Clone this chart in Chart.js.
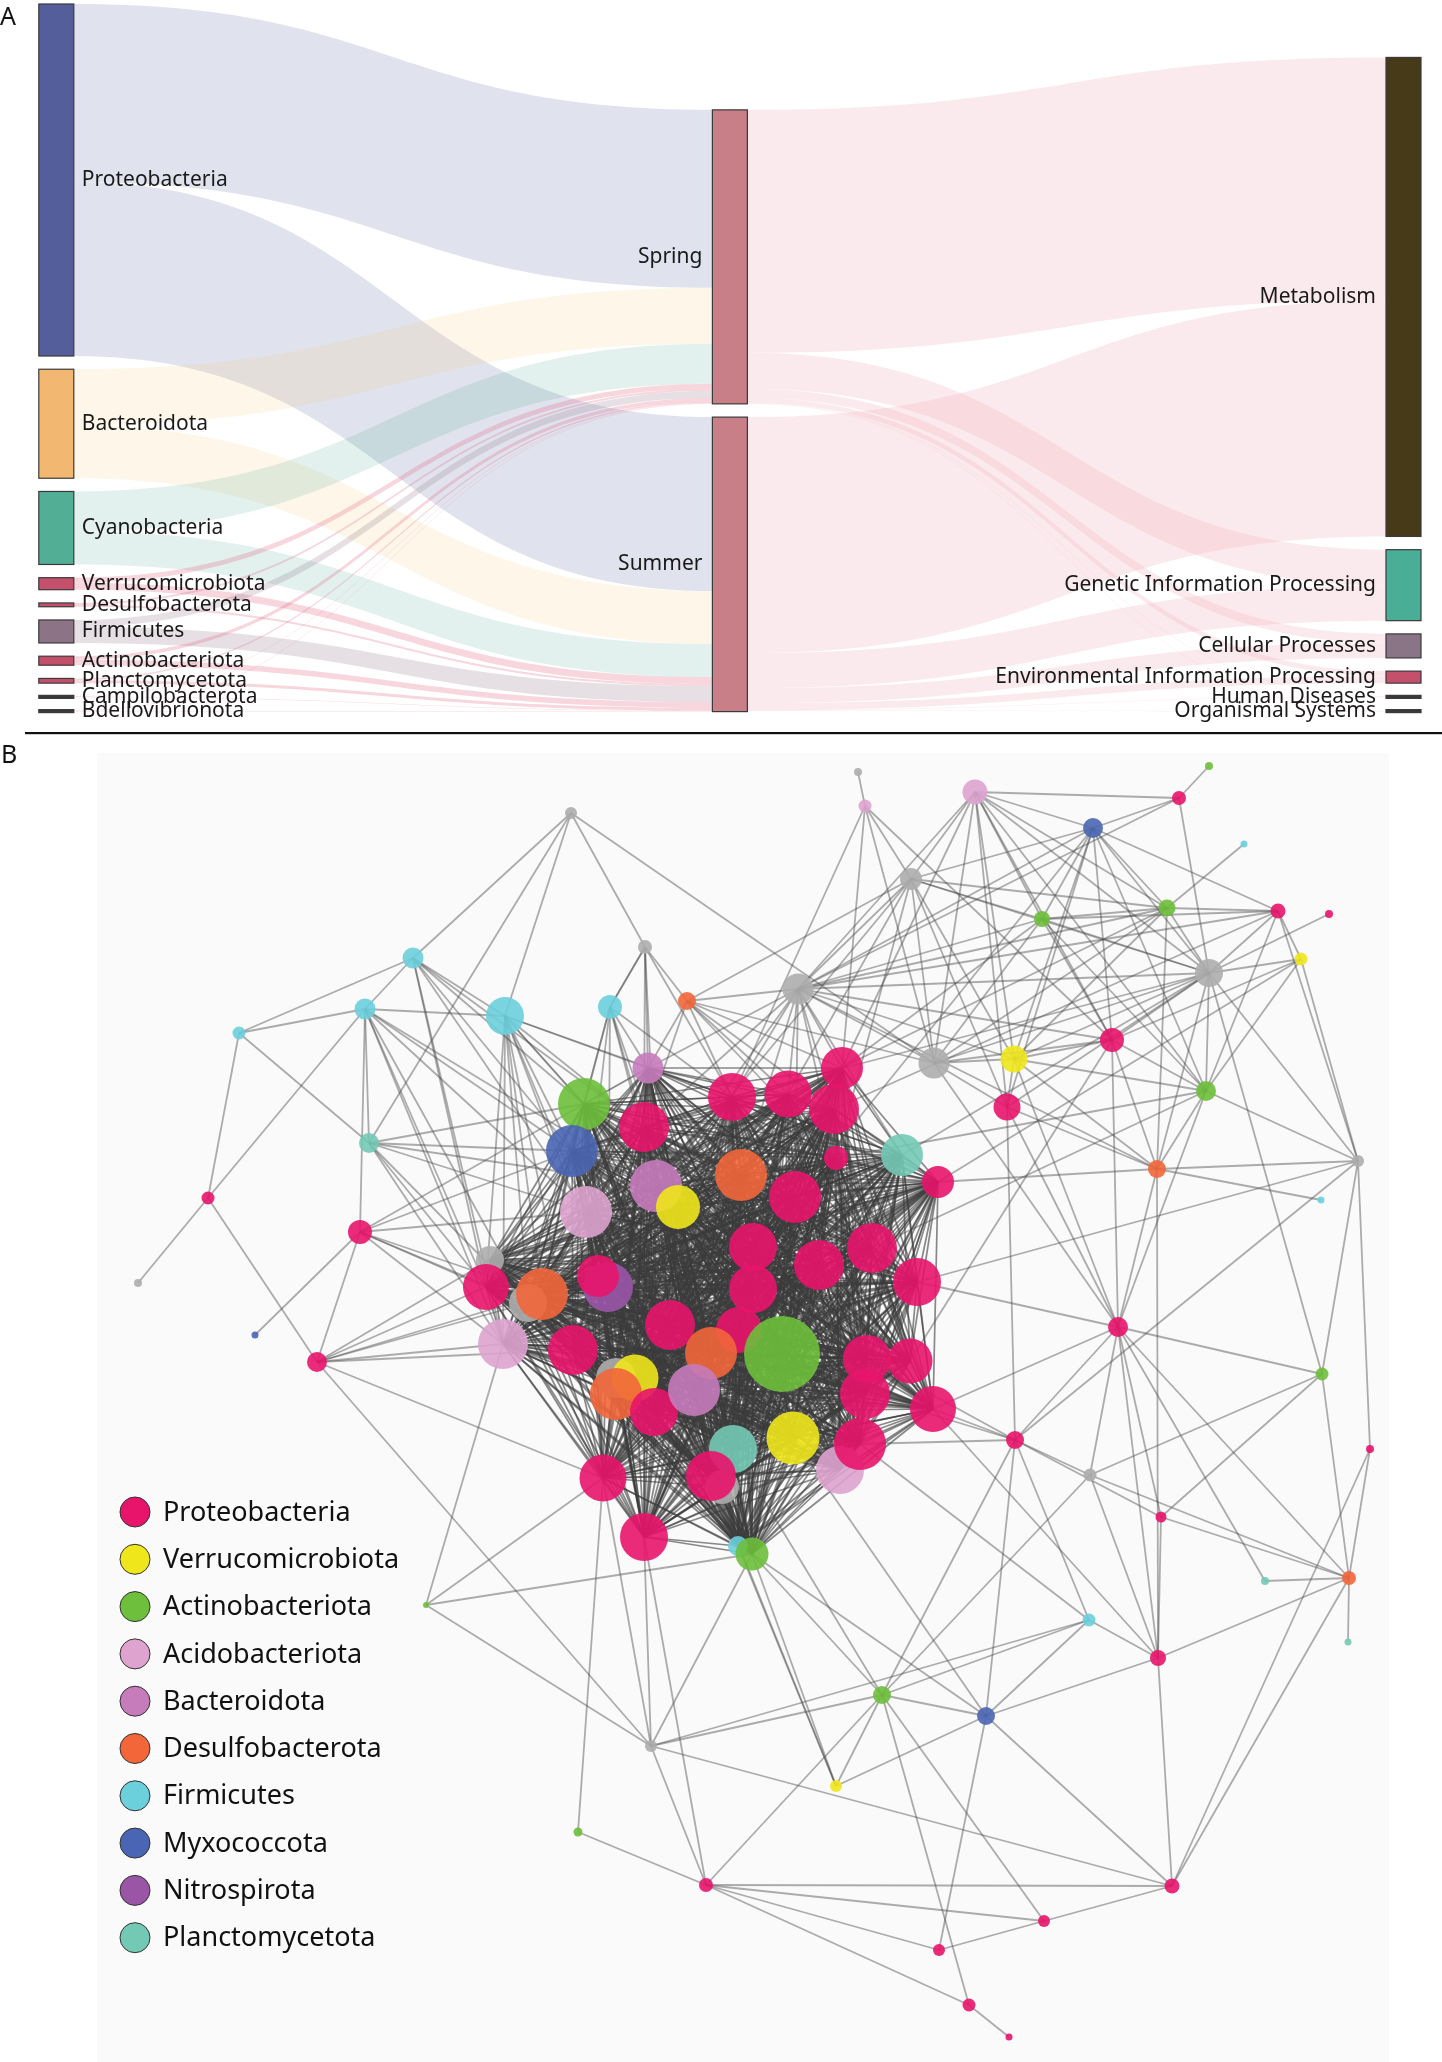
<!DOCTYPE html>
<html>
<head>
<meta charset="utf-8">
<title>Sankey and co-occurrence network</title>
<script src="https://cdn.jsdelivr.net/npm/chart.js@4.4.1/dist/chart.umd.min.js"></script>
<style>
html, body { margin: 0; padding: 0; background: #fff; }
body { width: 1442px; height: 2062px; position: relative; overflow: hidden; }
#sankeyBox { position: absolute; left: 0; top: 0; width: 1442px; height: 745px; }
#netBox { position: absolute; left: 0; top: 745px; width: 1442px; height: 1317px; }
</style>
</head>
<body>
<div id="sankeyBox"><canvas id="sankey" width="1442" height="745"></canvas></div>
<div id="netBox"><canvas id="network" width="1442" height="1317"></canvas></div>
<script>
// ---------- Panel A : phylum -> season -> KEGG level 1 ----------
const phyla = ['Proteobacteria', 'Bacteroidota', 'Cyanobacteria', 'Verrucomicrobiota', 'Desulfobacterota',
  'Firmicutes', 'Actinobacteriota', 'Planctomycetota', 'Campilobacterota', 'Bdellovibrionota'];
const seasons = ['Spring', 'Summer'];
const pathways = ['Metabolism', 'Genetic Information Processing', 'Cellular Processes',
  'Environmental Information Processing', 'Human Diseases', 'Organismal Systems'];

// flow sizes
const toSpring = [178, 56, 40, 5, 1.8, 7, 3.5, 1.7, 0.5, 0.5];
const toSummer = [174, 53, 33, 7, 2, 16, 5.5, 3, 0.5, 0.5];
const fromSpring = [243, 36, 9, 5, 0.5, 0.5];
const fromSummer = [236, 35, 15, 7, 0.5, 0.5];

const phylaColors = ['#545e9b', '#f2b872', '#52ae95', '#c4506c', '#c4506c', '#8c7385', '#c4506c', '#c4506c', '#3a3a3a', '#3a3a3a'];
const phylaFlowColors = ['rgba(84,94,155,0.18)', 'rgba(245,200,120,0.16)', 'rgba(82,174,149,0.17)',
  'rgba(222,90,125,0.25)', 'rgba(222,90,125,0.25)', 'rgba(140,115,133,0.22)', 'rgba(222,90,125,0.25)',
  'rgba(222,90,125,0.25)', 'rgba(222,90,125,0.22)', 'rgba(222,90,125,0.22)'];
const seasonColor = '#c97f88';
const seasonFlowColor = 'rgba(236,150,165,0.2)';
const pathwayColors = ['#473a18', '#4aae97', '#8a7587', '#c4506c', '#3a3a3a', '#3a3a3a'];

const sankeyHeight = 707.6;   // y scale extent in flow units
const nodeWidthPx = 35;
const columnPos = [0, 0.5, 1];

function buildSankey() {
  const cols = [[], [], []];
  phyla.forEach((name, i) => cols[0].push({ name, color: phylaColors[i], value: toSpring[i] + toSummer[i], col: 0 }));
  seasons.forEach((name, i) => {
    const inV = phyla.reduce((s, p, k) => s + (i === 0 ? toSpring[k] : toSummer[k]), 0);
    const outV = (i === 0 ? fromSpring : fromSummer).reduce((a, b) => a + b, 0);
    cols[1].push({ name, color: seasonColor, value: Math.max(inV, outV), col: 1 });
  });
  pathways.forEach((name, i) => cols[2].push({ name, color: pathwayColors[i], value: fromSpring[i] + fromSummer[i], col: 2 }));

  const leftSum = cols[0].reduce((s, n) => s + n.value, 0);
  const pad = (sankeyHeight - leftSum) / (cols[0].length - 1);
  cols.forEach(col => {
    const total = col.reduce((s, n) => s + n.value, 0) + pad * (col.length - 1);
    let y = sankeyHeight - total;
    col.forEach(n => { n.y0 = y; n.y1 = y + n.value; n.outY = y; n.inY = y; y = n.y1 + pad; });
  });

  const links = [];
  phyla.forEach((p, i) => {
    [toSpring[i], toSummer[i]].forEach((v, s) => links.push({ src: cols[0][i], tgt: cols[1][s], value: v, color: phylaFlowColors[i] }));
  });
  seasons.forEach((s, i) => {
    const arr = i === 0 ? fromSpring : fromSummer;
    arr.forEach((v, k) => links.push({ src: cols[1][i], tgt: cols[2][k], value: v, color: seasonFlowColor }));
  });
  // source offsets follow target order, target offsets follow source order
  links.forEach(l => { l.sy0 = l.src.outY; l.src.outY += l.value; l.sy1 = l.src.outY; });
  const byTarget = links.slice().sort((a, b) => a.src.col - b.src.col || a.src.y0 - b.src.y0);
  byTarget.forEach(l => { l.ty0 = l.tgt.inY; l.tgt.inY += l.value; l.ty1 = l.tgt.inY; });
  return { cols, links };
}

const sankeyData = buildSankey();

const sankeyPlugin = {
  id: 'sankeyDraw',
  afterDatasetsDraw(chart) {
    const { ctx, scales: { x, y } } = chart;
    const nodeX0 = n => x.getPixelForValue(columnPos[n.col]) - nodeWidthPx * columnPos[n.col];

    ctx.save();
    // flows
    sankeyData.links.forEach(l => {
      const xs = nodeX0(l.src) + nodeWidthPx, xt = nodeX0(l.tgt), xm = (xs + xt) / 2;
      const a0 = y.getPixelForValue(l.sy0), a1 = y.getPixelForValue(l.sy1);
      const b0 = y.getPixelForValue(l.ty0), b1 = y.getPixelForValue(l.ty1);
      ctx.beginPath();
      ctx.moveTo(xs, a0);
      ctx.bezierCurveTo(xm, a0, xm, b0, xt, b0);
      ctx.lineTo(xt, b1);
      ctx.bezierCurveTo(xm, b1, xm, a1, xs, a1);
      ctx.closePath();
      ctx.fillStyle = l.color;
      ctx.fill();
    });

    // nodes + labels
    ctx.font = '21px "Noto Sans", "DejaVu Sans", sans-serif';
    ctx.textBaseline = 'middle';
    sankeyData.cols.forEach(col => col.forEach(n => {
      const x0 = nodeX0(n);
      let top = y.getPixelForValue(n.y0), bot = y.getPixelForValue(n.y1);
      const mid = (top + bot) / 2;
      if (bot - top < 3) { top = mid - 1.5; bot = mid + 1.5; }
      ctx.fillStyle = n.color;
      ctx.fillRect(x0, top, nodeWidthPx, bot - top);
      ctx.strokeStyle = '#3a3a3a';
      ctx.lineWidth = 1.2;
      ctx.strokeRect(x0, top, nodeWidthPx, bot - top);
      ctx.fillStyle = '#1a1a1a';
      if (n.col === 0) {
        ctx.textAlign = 'left';
        ctx.fillText(n.name, x0 + nodeWidthPx + 8, mid);
      } else {
        ctx.textAlign = 'right';
        ctx.fillText(n.name, x0 - 10, mid);
      }
    }));

    // panel letter and divider
    ctx.textAlign = 'left';
    ctx.textBaseline = 'alphabetic';
    ctx.font = '25px "Noto Sans", "DejaVu Sans", sans-serif';
    ctx.fillStyle = '#111';
    ctx.fillText('A', 0, 25);
    ctx.fillRect(25, 732, 1442 - 25, 2.2);
    ctx.restore();
  }
};

new Chart(document.getElementById('sankey'), {
  type: 'scatter',
  data: { datasets: [{ data: [] }] },
  options: {
    responsive: false,
    devicePixelRatio: 1,
    animation: false,
    events: [],
    layout: { autoPadding: false, padding: { left: 38.8, right: 21, top: 4, bottom: 35 } },
    plugins: { legend: { display: false }, tooltip: { enabled: false } },
    scales: {
      x: { type: 'linear', min: 0, max: 1, display: false },
      y: { type: 'linear', min: 0, max: sankeyHeight - 1.6, reverse: true, display: false }
    }
  },
  plugins: [sankeyPlugin]
});

// ---------- Panel B : co-occurrence network ----------
const groupNames = ['Proteobacteria', 'Verrucomicrobiota', 'Actinobacteriota', 'Acidobacteriota', 'Bacteroidota',
  'Desulfobacterota', 'Firmicutes', 'Myxococcota', 'Nitrospirota', 'Planctomycetota'];
const groupCodes = ['P', 'V', 'A', 'C', 'B', 'D', 'F', 'M', 'N', 'L'];
const groupColors = ['#e8146c', '#f0e61c', '#6dbf3c', '#dea3cf', '#c67bbb', '#f2663a', '#6ccfdc', '#4a65b3', '#9a55a7', '#74c9b5'];
const otherColor = '#adadad';

// node layout positions (page pixels) and sizes
const nodeX = [571, 645, 858, 865, 975, 1093, 1179, 1209, 1244, 911,
  1042, 1167, 1278, 1329, 1301, 1209, 798, 687, 610, 505,
  413, 365, 239, 369, 208, 138, 255, 360, 317, 934,
  1014, 1112, 1007, 1206, 1358, 1321, 1157, 902, 836, 938,
  648, 584, 644, 572, 656, 678, 586, 732, 788, 842,
  834, 741, 795, 753, 819, 872, 917, 753, 490, 528,
  542, 486, 608, 598, 503, 573, 670, 739, 711, 782,
  616, 635, 616, 654, 694, 867, 910, 865, 933, 793,
  840, 860, 722, 733, 711, 603, 644, 738, 752, 1118,
  1015, 1090, 1322, 1370, 1161, 1349, 1265, 1348, 1089, 1158,
  882, 986, 651, 836, 578, 426, 706, 1044, 1172, 939,
  969, 1009];
const nodeY = [813, 947, 772, 806, 792, 828, 798, 766, 844, 879,
  919, 908, 911, 914, 959, 973, 989, 1001, 1007, 1016,
  958, 1009, 1033, 1143, 1198, 1283, 1335, 1232, 1362, 1063,
  1059, 1040, 1107, 1091, 1161, 1200, 1169, 1155, 1158, 1182,
  1068, 1104, 1127, 1151, 1186, 1207, 1212, 1097, 1094, 1068,
  1109, 1175, 1197, 1247, 1265, 1248, 1282, 1289, 1260, 1303,
  1294, 1287, 1287, 1276, 1344, 1350, 1325, 1330, 1353, 1354,
  1378, 1378, 1394, 1412, 1390, 1359, 1361, 1394, 1409, 1438,
  1470, 1444, 1487, 1449, 1476, 1478, 1537, 1546, 1554, 1327,
  1440, 1475, 1374, 1449, 1517, 1578, 1581, 1642, 1620, 1658,
  1695, 1716, 1746, 1786, 1832, 1605, 1885, 1921, 1886, 1950,
  2005, 2037];
const nodeSize = [6, 7, 4, 6.5, 12.5, 10, 7, 4, 3.5, 11,
  8, 8.5, 7.5, 4, 6.5, 14, 15.5, 9, 12, 19,
  10.5, 10.5, 6.5, 10, 6.5, 4, 3.5, 12, 10, 15.5,
  13.5, 12, 13.5, 10, 6, 3.5, 9, 21, 12, 16,
  15.5, 26, 25, 26, 26, 22, 26, 24, 23.5, 21,
  25, 26, 26, 24, 25, 25, 24, 24, 14, 19,
  26, 23, 25, 21, 25, 25, 25, 23, 26, 38,
  20, 23.5, 26, 24, 26, 24, 22.5, 25, 23, 26.5,
  24, 26, 17, 24, 25, 23.5, 24, 10, 16.5, 10,
  9, 6.5, 6.5, 4, 5.5, 7, 4, 3.5, 6.5, 8,
  9, 9, 6, 6, 4.5, 3, 7, 6, 7.5, 6,
  6.5, 3.5];
// P Proteo, V Verruco, A Actino, C Acido, B Bactero, D Desulfo, F Firmicutes, M Myxo, N Nitro, L Plancto, O other
const nodeGroup = ['O', 'O', 'O', 'C', 'C', 'M', 'P', 'A', 'F', 'O',
  'A', 'A', 'P', 'P', 'V', 'O', 'O', 'D', 'F', 'F',
  'F', 'F', 'F', 'L', 'P', 'O', 'M', 'P', 'P', 'O',
  'V', 'P', 'P', 'A', 'O', 'F', 'D', 'L', 'P', 'P',
  'B', 'A', 'P', 'M', 'B', 'V', 'C', 'P', 'P', 'P',
  'P', 'D', 'P', 'P', 'P', 'P', 'P', 'P', 'O', 'O',
  'D', 'P', 'N', 'P', 'C', 'P', 'P', 'P', 'D', 'A',
  'O', 'V', 'D', 'P', 'B', 'P', 'P', 'P', 'P', 'V',
  'C', 'P', 'O', 'L', 'P', 'P', 'P', 'F', 'A', 'P',
  'P', 'O', 'A', 'P', 'P', 'D', 'L', 'L', 'F', 'P',
  'A', 'M', 'O', 'V', 'A', 'A', 'P', 'P', 'P', 'P',
  'P', 'P'];

// densely connected module in the centre: every member is linked to every other member
const coreModule = [37, 38, 39, 40, 41, 42, 43, 44, 45, 46, 47, 48, 49, 50, 51, 52, 53, 54, 55, 56,
  57, 58, 59, 60, 61, 62, 63, 64, 65, 66, 67, 68, 69, 70, 71, 72, 73, 74, 75, 76,
  77, 78, 79, 80, 81, 82, 83, 84, 85, 86, 87, 88];

// remaining edges, as node -> neighbours
const outerLinks = [
  [0, [20, 19, 1, 29, 23]],
  [1, [18, 40, 47, 42, 44, 17]],
  [2, [3]],
  [3, [9, 29, 49, 31, 47]],
  [4, [6, 5, 9, 16, 10, 11, 15, 30, 29, 31, 33, 32, 49]],
  [5, [6, 9, 10, 11, 15, 33, 30, 31, 32, 12, 16, 52]],
  [6, [7, 15, 16]],
  [8, [11]],
  [9, [10, 11, 15, 16, 29, 30, 32, 38, 48, 17, 44]],
  [10, [11, 12, 15, 16, 29, 31, 33, 49]],
  [11, [12, 15, 16, 29, 36, 30, 48]],
  [12, [14, 15, 34, 16, 33, 50]],
  [13, [15]],
  [14, [15, 34, 33, 31, 39]],
  [15, [16, 29, 30, 33, 36, 34, 32, 31, 37, 47]],
  [16, [29, 30, 31, 47, 48, 49, 50, 42, 40, 44, 51, 52, 37, 38, 17, 36]],
  [17, [29, 47, 48, 49, 42, 40, 38, 50]],
  [18, [1, 41, 43, 42, 40, 44, 47, 46, 45, 62]],
  [19, [20, 21, 41, 43, 46, 42, 44, 61, 64, 40, 62, 59, 65, 47, 60]],
  [20, [22, 21, 41, 43, 46, 42, 61, 64]],
  [21, [22, 27, 23, 43, 46, 61, 64, 59, 44]],
  [22, [24, 23]],
  [23, [43, 41, 46, 61, 64, 44, 65]],
  [24, [21, 25, 28]],
  [26, [27]],
  [27, [28, 61, 64, 43, 46, 60, 59, 41]],
  [28, [61, 64, 60, 65, 59, 58, 85, 102]],
  [29, [30, 31, 32, 89]],
  [30, [31, 32, 33, 36, 89]],
  [31, [33, 36, 89, 76]],
  [32, [89, 90, 36]],
  [33, [34, 36, 89, 38, 55]],
  [34, [36, 92, 90, 56]],
  [35, [36]],
  [36, [89, 99, 39]],
  [87, [103]],
  [88, [100, 102, 103, 101]],
  [89, [90, 91, 94, 95, 92, 99, 56, 78]],
  [90, [91, 98, 100, 94, 78, 81, 77, 75]],
  [91, [95, 100, 99]],
  [92, [15, 95, 94, 91]],
  [93, [108, 95, 34]],
  [94, [95, 99]],
  [95, [96, 97, 99, 108]],
  [96, [89]],
  [98, [99, 100, 101, 102, 81]],
  [99, [108, 101, 78]],
  [100, [101, 107, 110, 103, 83]],
  [101, [108, 109, 90, 79]],
  [102, [100, 106, 86, 108, 85]],
  [103, [101, 84]],
  [104, [106, 85]],
  [105, [88, 85, 102, 64]],
  [106, [100, 108, 107, 109, 110, 86]],
  [107, [108, 109]],
  [110, [111]]
];

function colorFor(code, alpha) {
  const k = groupCodes.indexOf(code);
  const hex = k < 0 ? otherColor : groupColors[k];
  const r = parseInt(hex.slice(1, 3), 16), g = parseInt(hex.slice(3, 5), 16), b = parseInt(hex.slice(5, 7), 16);
  return `rgba(${r},${g},${b},${alpha})`;
}

const networkPoints = nodeX.map((x, i) => ({ x, y: nodeY[i], r: nodeSize[i] }));
const networkColors = nodeGroup.map(g => colorFor(g, 0.9));

const networkPlugin = {
  id: 'networkDraw',
  beforeDatasetsDraw(chart) {
    const { ctx, scales: { x, y } } = chart;
    ctx.save();
    // panel background and letter
    ctx.fillStyle = '#fafafa';
    const bx = x.getPixelForValue(97), by = y.getPixelForValue(753);
    ctx.fillRect(bx, by, x.getPixelForValue(1389) - bx, y.getPixelForValue(2062) - by);
    ctx.fillStyle = '#111';
    ctx.font = '25px "Noto Sans", "DejaVu Sans", sans-serif';
    ctx.fillText('B', 1, y.getPixelForValue(763));

    // edges
    const edge = (a, b) => {
      ctx.beginPath();
      ctx.moveTo(x.getPixelForValue(nodeX[a]), y.getPixelForValue(nodeY[a]));
      ctx.lineTo(x.getPixelForValue(nodeX[b]), y.getPixelForValue(nodeY[b]));
      ctx.stroke();
    };
    ctx.strokeStyle = 'rgba(60,60,60,0.6)';
    ctx.lineWidth = 1.7;
    for (let i = 0; i < coreModule.length; i++) {
      for (let j = i + 1; j < coreModule.length; j++) edge(coreModule[i], coreModule[j]);
    }
    ctx.strokeStyle = 'rgba(75,75,75,0.45)';
    ctx.lineWidth = 1.8;
    outerLinks.forEach(([a, list]) => list.forEach(b => edge(a, b)));
    ctx.restore();
  },
  afterDatasetsDraw(chart) {
    const { ctx, scales: { x, y } } = chart;
    ctx.save();
    ctx.font = '27px "Noto Sans", "DejaVu Sans", sans-serif';
    ctx.textBaseline = 'middle';
    ctx.textAlign = 'left';
    groupNames.forEach((name, i) => {
      const cy = y.getPixelForValue(1512 + i * 47.3);
      const cx = x.getPixelForValue(135);
      ctx.beginPath();
      ctx.arc(cx, cy, 15, 0, Math.PI * 2);
      ctx.fillStyle = groupColors[i];
      ctx.fill();
      ctx.strokeStyle = '#333';
      ctx.lineWidth = 1;
      ctx.stroke();
      ctx.fillStyle = '#111';
      ctx.fillText(name, cx + 28, cy + 1);
    });
    ctx.restore();
  }
};

new Chart(document.getElementById('network'), {
  type: 'bubble',
  data: {
    datasets: [{
      data: networkPoints,
      backgroundColor: networkColors,
      borderWidth: 0,
      hoverRadius: 0,
      clip: false
    }]
  },
  options: {
    responsive: false,
    devicePixelRatio: 1,
    animation: false,
    events: [],
    layout: { autoPadding: false, padding: 0 },
    plugins: { legend: { display: false }, tooltip: { enabled: false } },
    scales: {
      x: { type: 'linear', min: 0, max: 1442, display: false },
      y: { type: 'linear', min: 745, max: 2062, reverse: true, display: false }
    }
  },
  plugins: [networkPlugin]
});
</script>
</body>
</html>
